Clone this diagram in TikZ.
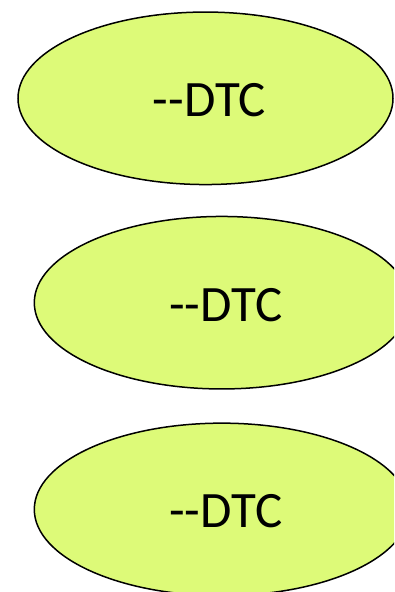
\documentclass[tikz,border=0pt]{standalone}
\usepackage{fontspec}
\setmainfont{Carlito}
\usepackage{tikz}
\usetikzlibrary{shapes.geometric, positioning}

\definecolor{dtcfill}{RGB}{221,250,120}

\begin{document}
\begin{tikzpicture}[x=1pt,y=-1pt]
\tikzset{dtc/.style={ellipse, draw=black, line width=1.5pt, fill=dtcfill,
  minimum width=375pt, minimum height=172.5pt, inner sep=0pt},
  dtctext/.style={inner sep=0pt, font=\fontsize{51}{56}\selectfont}}
\useasboundingbox (0,0) rectangle (394,592);
\clip (0,0) rectangle (394,592);
% The three ellipses
\node (dtca) at (205.5,98.3) [dtc] {};
\node (dtcb) at (221.8,302.7) [dtc] {};
\node (dtcc) at (221.8,509.4) [dtc] {};
% Their labels
\node (dtcatext) at ([xshift=4pt,yshift=-2pt]dtca.center) [dtctext] {-{}-DTC};
\node (dtcbtext) at ([xshift=4pt,yshift=-2pt]dtcb.center) [dtctext] {-{}-DTC};
\node (dtcctext) at ([xshift=4pt,yshift=-2pt]dtcc.center) [dtctext] {-{}-DTC};
\end{tikzpicture}
\end{document}
